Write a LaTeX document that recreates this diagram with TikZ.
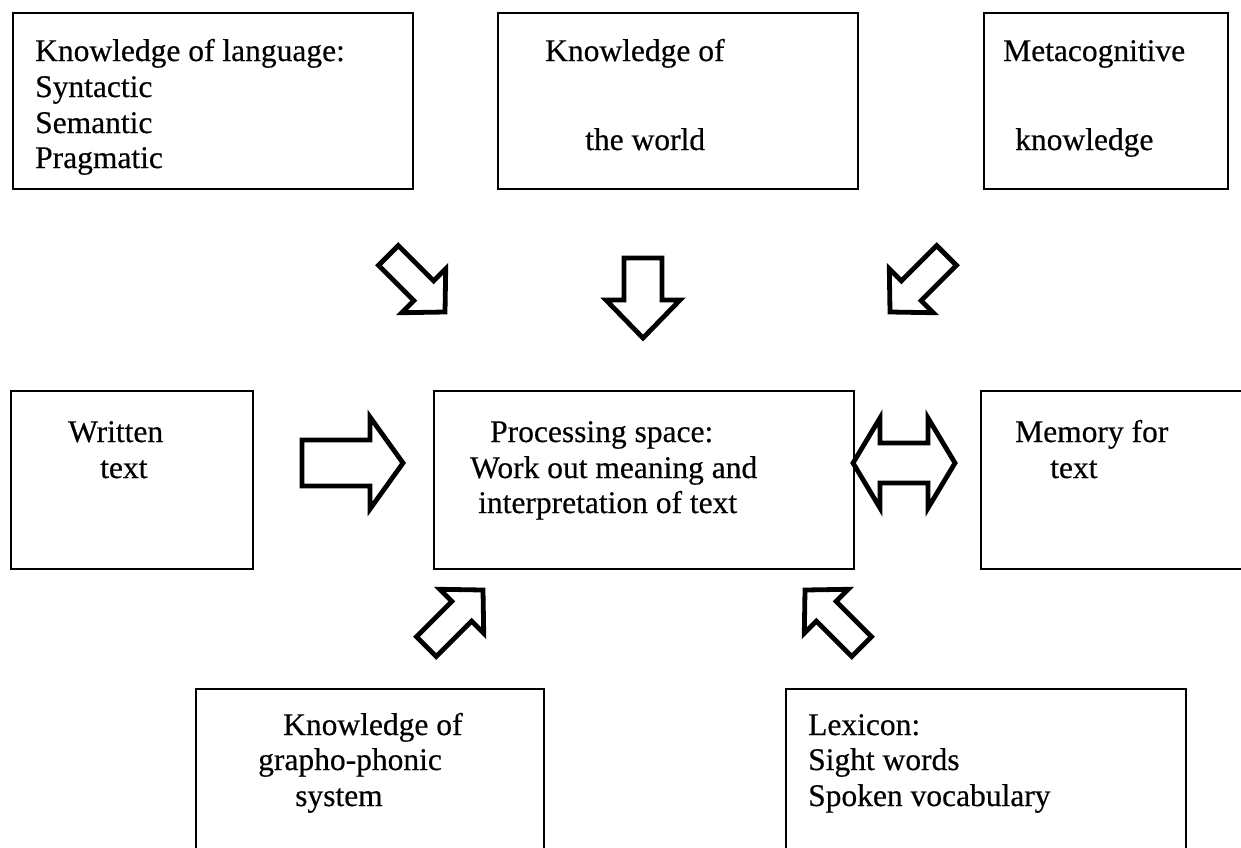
\documentclass[tikz,border=0pt]{standalone}
\usepackage{fontspec}
\setmainfont{Liberation Serif}[FakeBold=0.4]
\begin{document}
\begin{tikzpicture}[x=1pt,y=1pt,
  box/.style={draw, line width=2.4pt, anchor=north west, inner sep=0pt},
  lbl/.style={anchor=base west, inner sep=0pt, font=\fontsize{31.5}{36}\selectfont},
  barrow/.style={draw, line width=4.8pt, line join=miter, fill=white},
  pics/diagarrow/.style={code={\draw[barrow] (-80,14)--(-30,14)--(-30,31)--(0,0)--(-30,-31)--(-30,-14)--(-80,-14)--cycle;}},
  pics/downarrow/.style={code={\draw[barrow] (-80,19)--(-38,19)--(-38,37)--(0,0)--(-38,-37)--(-38,-19)--(-80,-19)--cycle;}},
  pics/rightarrow/.style={code={\draw[barrow] (-101,23)--(-33,23)--(-33,46)--(0,0)--(-33,-46)--(-33,-23)--(-101,-23)--cycle;}},
  pics/dblarrow/.style={code={\draw[barrow] (0,0)--(27,45)--(27,20)--(75,20)--(75,45)--(102,0)--(75,-45)--(75,-20)--(27,-20)--(27,-45)--cycle;}}
]
\useasboundingbox (0,0) rectangle (1241,-847);

% boxes
\node[box, minimum width=400pt, minimum height=176pt] (lang) at (12,-12) {};
\node[box, minimum width=360pt, minimum height=176pt] (world) at (497,-12) {};
\node[box, minimum width=244pt, minimum height=176pt] (meta) at (983,-12) {};
\node[box, minimum width=242pt, minimum height=178pt] (written) at (10,-390) {};
\node[box, minimum width=420pt, minimum height=178pt] (proc) at (433,-390) {};
\node[box, minimum width=300pt, minimum height=178pt] (memory) at (980,-390) {};
\node[box, minimum width=348pt, minimum height=200pt] (grapho) at (195,-688) {};
\node[box, minimum width=400pt, minimum height=200pt] (lexicon) at (785,-688) {};

% texts
\node[lbl] (lang1) at (35,-61) {Knowledge of language:};
\node[lbl] (lang2) at (35,-97) {Syntactic};
\node[lbl] (lang3) at (35,-133) {Semantic};
\node[lbl] (lang4) at (35,-168) {Pragmatic};

\node[lbl] (world1) at (545,-61) {Knowledge of};
\node[lbl] (world2) at (585,-150) {the world};

\node[lbl] (meta1) at (1003,-61) {Metacognitive};
\node[lbl] (meta2) at (1015,-150) {knowledge};

\node[lbl] (written1) at (68,-442) {Written};
\node[lbl] (written2) at (100,-478) {text};

\node[lbl] (proc1) at (490,-442) {Processing space:};
\node[lbl] (proc2) at (470,-478) {Work out meaning and};
\node[lbl] (proc3) at (478,-513) {interpretation of text};

\node[lbl] (mem1) at (1015,-442) {Memory for};
\node[lbl] (mem2) at (1050,-478) {text};

\node[lbl] (gr1) at (283,-735) {Knowledge of};
\node[lbl] (gr2) at (258,-770) {grapho-phonic};
\node[lbl] (gr3) at (295,-806) {system};

\node[lbl] (lex1) at (808,-735) {Lexicon:};
\node[lbl] (lex2) at (808,-770) {Sight words};
\node[lbl] (lex3) at (808,-806) {Spoken vocabulary};

% block arrows
\coordinate (t1) at (445,-312);
\coordinate (t2) at (643,-338);
\coordinate (t3) at (890,-312);
\coordinate (t4) at (403,-463);
\coordinate (t5) at (853,-463);
\coordinate (t6) at (483,-590);
\coordinate (t7) at (805,-590);
\pic[rotate=-45] at (t1) {diagarrow};
\pic[rotate=-90] at (t2) {downarrow};
\pic[rotate=-135] at (t3) {diagarrow};
\pic at (t4) {rightarrow};
\pic at (t5) {dblarrow};
\pic[rotate=45] at (t6) {diagarrow};
\pic[rotate=135] at (t7) {diagarrow};
\end{tikzpicture}
\end{document}
